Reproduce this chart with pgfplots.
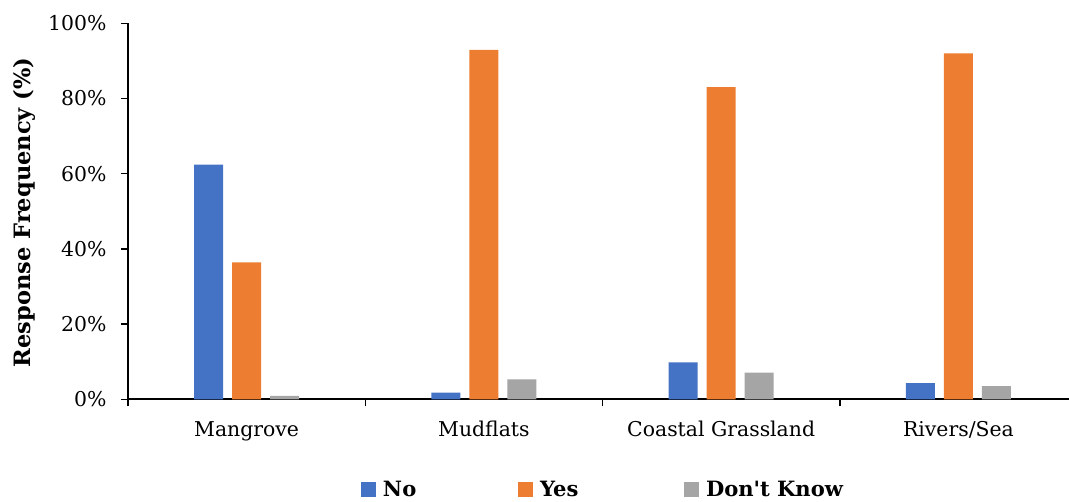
\documentclass[border=0pt]{standalone}
\usepackage{fontspec}
\setmainfont{DejaVu Serif}
\usepackage{pgfplots}
\pgfplotsset{compat=1.18}

\definecolor{cNo}{HTML}{4472C4}
\definecolor{cYes}{HTML}{ED7D31}
\definecolor{cDK}{HTML}{A5A5A5}

\begin{document}
\begin{tikzpicture}
\begin{axis}[
  at={(96pt,76.275pt)}, anchor=south west,
  scale only axis,
  width=705.75pt, height=282pt,
  ybar=6.75pt, bar width=21.75pt,
  xmin=-0.5, xmax=3.466,
  ymin=0, ymax=100,
  axis x line*=bottom, axis y line*=left,
  axis line style={line width=1.3pt, black},
  tick align=outside,
  major tick length=5.25pt,
  tick style={line width=1.1pt, black},
  ytick={0,20,40,60,80,100},
  yticklabel={\pgfmathprintnumber{\tick}\%},
  /pgf/number format/assume math mode=true,
  yticklabel style={font=\fontsize{15.3}{18}\selectfont, anchor=east, inner sep=0pt, xshift=-10.75pt},
  xtick={-0.5,0.5,1.5,2.5},
  xticklabels={},
  extra x ticks={0,1,2,3},
  extra x tick labels={Mangrove,Mudflats,Coastal Grassland,Rivers/Sea},
  extra x tick style={major tick length=0pt,
    xticklabel style={font=\fontsize{15.3}{18}\selectfont, anchor=base, inner sep=0pt, yshift=-28pt}},
  legend columns=3,
  legend image code/.code={\fill[#1] (0pt,-5.625pt) rectangle (11.25pt,5.625pt);},
  legend style={draw=none, inner sep=0pt, outer sep=0pt,
    at={(axis description cs:0.2476,-0.240)}, anchor=west,
    nodes={inner sep=0pt, font=\bfseries\fontsize{15.8}{18}\selectfont},
    /tikz/every odd column/.append style={column sep=5.25pt}},
]
\addplot[fill=cNo, draw=none] coordinates {(0,62.4) (1,1.8) (2,9.8) (3,4.3)};
\addlegendentry{\makebox[101.25pt][l]{No}}
\addplot[fill=cYes, draw=none] coordinates {(0,36.4) (1,92.9) (2,83.0) (3,92.0)};
\addlegendentry{\makebox[108pt][l]{Yes}}
\addplot[fill=cDK, draw=none] coordinates {(0,0.9) (1,5.3) (2,7.1) (3,3.5)};
\addlegendentry{Don\textquotesingle t Know}
\end{axis}
\node[rotate=90, font=\bfseries\fontsize{16.9}{18}\selectfont, inner sep=0pt] at (18pt,216.5pt) {Response Frequency (\%)};
\pgfresetboundingbox
\useasboundingbox (0pt,0pt) rectangle (801.75pt,375.75pt);
\end{tikzpicture}
\end{document}
